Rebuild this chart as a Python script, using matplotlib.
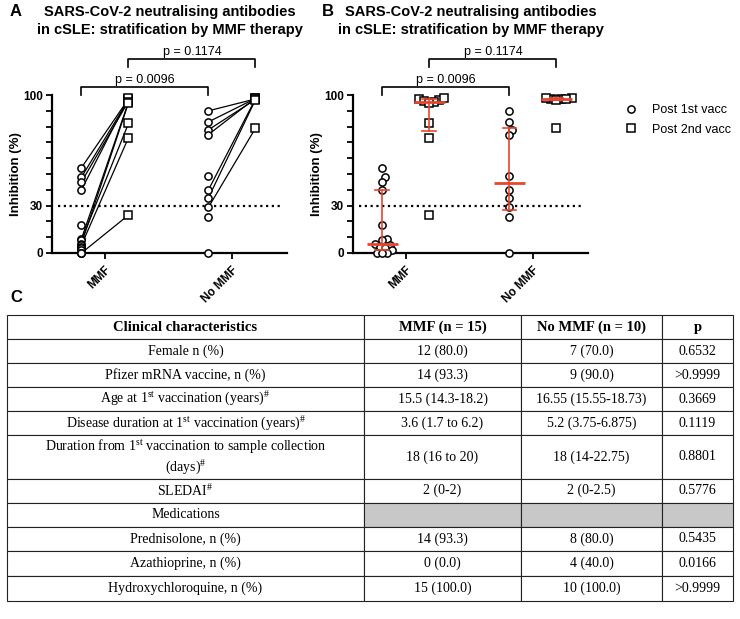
import numpy as np
import matplotlib
matplotlib.use('Agg')
import matplotlib.pyplot as plt
from matplotlib.lines import Line2D

plt.rcParams['font.family'] = 'Liberation Sans'
plt.rcParams['mathtext.fontset'] = 'custom'
plt.rcParams['mathtext.rm'] = 'Liberation Serif'
plt.rcParams['mathtext.it'] = 'Liberation Serif:italic'
plt.rcParams['mathtext.bf'] = 'Liberation Serif:bold'

nan = np.nan
groups = ['MMF', 'No MMF']
# inhibition (%) per patient after 1st and 2nd vaccination (nan = no sample)
mmf_1st = [54, 48, 45, 40, 18, 9, 8, 6, 5, 4, 3, 2, 0, 0, 0]
mmf_2nd = [97.5, 97, 96, 98, nan, 95.5, 82, 95, 73, nan, nan, nan, 24, nan, nan]
nommf_1st = [90, 83, 78, 75, 49, 40, 35, 29, 23, 0]
nommf_2nd = [97.5, 97.8, 97.2, 98, nan, 97.6, 97, 79, nan, nan]
threshold = 30
p_labels = ['p = 0.0096', 'p = 0.1174']
legend_labels = ['Post 1st vacc', 'Post 2nd vacc']
title = 'SARS-CoV-2 neutralising antibodies\nin cSLE: stratification by MMF therapy'

table_header = ['Clinical characteristics', 'MMF (n = 15)', 'No MMF (n = 10)', 'p']
table_rows = [
    ['Female n (%)', '12 (80.0)', '7 (70.0)', '0.6532'],
    ['Pfizer mRNA vaccine, n (%)', '14 (93.3)', '9 (90.0)', '>0.9999'],
    [r'Age at 1$^{\mathrm{st}}$ vaccination (years)$^{\#}$', '15.5 (14.3-18.2)', '16.55 (15.55-18.73)', '0.3669'],
    [r'Disease duration at 1$^{\mathrm{st}}$ vaccination (years)$^{\#}$', '3.6 (1.7 to 6.2)', '5.2 (3.75-6.875)', '0.1119'],
    ['Duration from 1$^{\\mathrm{st}}$ vaccination to sample collection\n(days)$^{\\#}$', '18 (16 to 20)', '18 (14-22.75)', '0.8801'],
    [r'SLEDAI$^{\#}$', '2 (0-2)', '2 (0-2.5)', '0.5776'],
    ['Medications', '', '', ''],
    ['Prednisolone, n (%)', '14 (93.3)', '8 (80.0)', '0.5435'],
    ['Azathioprine, n (%)', '0 (0.0)', '4 (40.0)', '0.0166'],
    ['Hydroxychloroquine, n (%)', '15 (100.0)', '10 (100.0)', '>0.9999'],
]

RED = '#e8452c'
W, H = 740, 619
fig = plt.figure(figsize=(W / 100, H / 100), dpi=100)

first = [np.array(mmf_1st, float), np.array(nommf_1st, float)]
second = [np.array(mmf_2nd, float), np.array(nommf_2nd, float)]
off = 0.185
px_x = 127.0   # pixels per category unit
px_y = 1.58    # pixels per % unit


def swarm(vals, d=5.0):
    # simple beeswarm: horizontal pixel offsets so markers do not pile up
    order = np.argsort(vals)
    placed = []
    offs = np.zeros(len(vals))
    cands = [0] + [s * k * d / 2 for k in range(1, 10) for s in (1, -1)]
    for i in order:
        y = vals[i] * px_y
        for c in cands:
            if all((c - px) ** 2 + (y - py) ** 2 >= d ** 2 for px, py in placed):
                break
        offs[i] = c
        placed.append((c, y))
    return offs / px_x


def style_axes(ax):
    ax.set_xlim(-0.417, 1.433)
    ax.set_ylim(0, 100)
    for s in ('top', 'right'):
        ax.spines[s].set_visible(False)
    for s in ('left', 'bottom'):
        ax.spines[s].set_linewidth(1.6)
    ax.set_yticks([0, 30, 100])
    ax.set_yticks(np.arange(0, 101, 10), minor=True)
    ax.set_xticks([0, 1])
    ax.set_xticklabels(groups, rotation=45, ha='right', rotation_mode='anchor',
                       fontweight='bold', fontsize=8.5)
    ax.tick_params(which='both', direction='out', length=4.5, width=1.3)
    ax.tick_params(axis='y', labelsize=8.5, pad=2)
    for t in ax.get_yticklabels():
        t.set_fontweight('bold')
    ax.set_ylabel('Inhibition (%)', fontweight='bold', fontsize=9.5, labelpad=1)
    ax.plot([-0.37, 1.38], [threshold, threshold], color='black', lw=1.6,
            ls=(0, (1, 1.6)), zorder=1)
    # significance brackets
    ax.plot([-off, -off, 1 - off, 1 - off], [100, 105, 105, 100], color='black',
            lw=1.2, clip_on=False)
    ax.text(0.5 - off, 105.8, p_labels[0], ha='center', va='bottom', fontsize=9)
    ax.plot([off, off, 1 + off, 1 + off], [117.7, 122.8, 122.8, 117.7], color='black',
            lw=1.2, clip_on=False)
    ax.text(0.5 + off, 123.6, p_labels[1], ha='center', va='bottom', fontsize=9)


axA = fig.add_axes([52 / W, 1 - 253 / H, 235 / W, 158 / H])
axB = fig.add_axes([353 / W, 1 - 253 / H, 235 / W, 158 / H])

mk = dict(ms=5.2, mfc='white', mec='black', mew=1.1, clip_on=False, zorder=3)

# Panel A: paired values
for g in range(2):
    a, b = first[g], second[g]
    for v1, v2 in zip(a, b):
        if not np.isnan(v2):
            axA.plot([g - off, g + off], [v1, v2], color='black', lw=0.9, zorder=2,
                     clip_on=False)
    axA.plot(np.full(len(a), g - off), a, 'o', **mk)
    axA.plot(np.full((~np.isnan(b)).sum(), g + off), b[~np.isnan(b)], 's', **mk)
style_axes(axA)

# Panel B: scatter with median and interquartile range
for g in range(2):
    for vals, dx, m in ((first[g], -off, 'o'), (second[g], off, 's')):
        v = vals[~np.isnan(vals)]
        x = g + dx + swarm(v)
        axB.plot(x, v, m, ls='none', **mk)
        q1, med, q3 = np.percentile(v, [25, 50, 75], method='weibull')
        xc = g + dx
        axB.plot([xc - 0.12, xc + 0.12], [med, med], color=RED, lw=2.0, zorder=5,
                 clip_on=False, solid_capstyle='butt')
        axB.plot([xc, xc], [q1, q3], color=RED, lw=1.2, zorder=5, clip_on=False)
        for q in (q1, q3):
            axB.plot([xc - 0.055, xc + 0.055], [q, q], color=RED, lw=1.2, zorder=5,
                     clip_on=False)
style_axes(axB)

handles = [Line2D([], [], marker='o', ls='none', ms=5.2, mfc='white', mec='black', mew=1.1),
           Line2D([], [], marker='s', ls='none', ms=5.2, mfc='white', mec='black', mew=1.1)]
fig.legend(handles, legend_labels, loc='upper left', bbox_to_anchor=(613 / W, 1 - 93 / H),
           frameon=False, fontsize=9, handlelength=1.0, handletextpad=1.2,
           labelspacing=0.6)

# titles and panel letters
for ax, letter, lx in ((axA, 'A', 10), (axB, 'B', 322)):
    pos = ax.get_position()
    fig.text((pos.x0 + pos.x1) / 2, 1 - 5 / H, title, ha='center', va='top',
             fontsize=10.5, fontweight='bold', linespacing=1.35)
    fig.text(lx / W, 1 - 12 / H, letter, ha='left', va='center', fontsize=12,
             fontweight='bold')
fig.text(10 / W, 1 - 298 / H, 'C', ha='left', va='center', fontsize=12,
         fontweight='bold')

# Panel C: table
axT = fig.add_axes([7 / W, 1 - 601 / H, 726 / W, 286 / H])
axT.axis('off')
row_h = [24, 24, 24, 24, 24, 43, 24, 24, 24, 25, 25]
tbl = axT.table(cellText=[table_header] + table_rows, colWidths=[357, 157, 141, 71],
                cellLoc='center', bbox=[0, 0, 1, 1])
tbl.auto_set_font_size(False)
for (r, c), cell in tbl.get_celld().items():
    cell.set_height(row_h[r])
    cell.set_linewidth(0.8)
    cell.set_edgecolor('#222222')
    t = cell.get_text()
    t.set_fontfamily('Liberation Serif')
    t.set_fontsize(10)
    if r == 0:
        t.set_fontweight('bold')
        t.set_fontsize(10.5)
for c in range(1, 4):
    tbl[7, c].set_facecolor('#c8c8c8')

fig.savefig('out.png', dpi=100)
